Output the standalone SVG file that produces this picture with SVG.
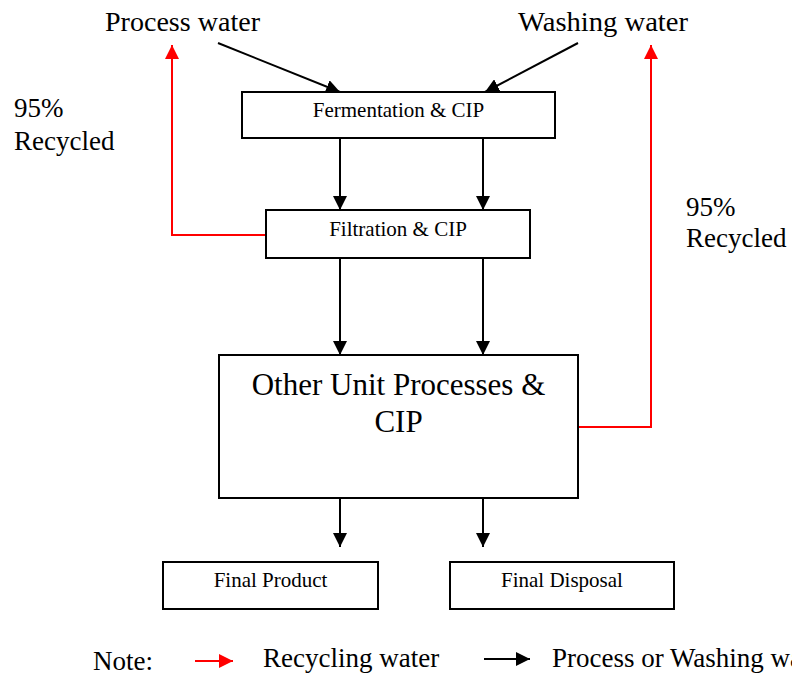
<svg xmlns="http://www.w3.org/2000/svg" width="792" height="677" viewBox="0 0 792 677">
<style>
text{font-family:"Liberation Serif","Times New Roman",serif;fill:#000}
.box{fill:#fff;stroke:#000;stroke-width:2}
.blk{fill:none;stroke:#000;stroke-width:2}
.red{fill:none;stroke:#f00;stroke-width:2}
.s{font-size:21px}
.m{font-size:27px}
</style>
<defs>
<marker id="ab" viewBox="0 0 10 10" refX="10" refY="5" markerWidth="7" markerHeight="7" orient="auto" markerUnits="strokeWidth"><path d="M0,0L10,5L0,10z" fill="#000"/></marker>
<marker id="ar" viewBox="0 0 10 10" refX="10" refY="5" markerWidth="7" markerHeight="7" orient="auto" markerUnits="strokeWidth"><path d="M0,0L10,5L0,10z" fill="#f00"/></marker>
</defs>
<rect width="792" height="677" fill="#fff"/>
<g id="connectors">
<line class="blk" x1="218" y1="43" x2="340" y2="92" marker-end="url(#ab)"/>
<line class="blk" x1="578" y1="43" x2="485" y2="92" marker-end="url(#ab)"/>
<line class="blk" x1="340" y1="138" x2="340" y2="210" marker-end="url(#ab)"/>
<line class="blk" x1="483" y1="138" x2="483" y2="210" marker-end="url(#ab)"/>
<line class="blk" x1="340" y1="258" x2="340" y2="355" marker-end="url(#ab)"/>
<line class="blk" x1="483" y1="258" x2="483" y2="355" marker-end="url(#ab)"/>
<line class="blk" x1="340" y1="498" x2="340" y2="547" marker-end="url(#ab)"/>
<line class="blk" x1="483" y1="498" x2="483" y2="547" marker-end="url(#ab)"/>
<polyline class="red" points="266,235 172,235 172,45" marker-end="url(#ar)"/>
<polyline class="red" points="578,427 651,427 651,45" marker-end="url(#ar)"/>
<line class="red" x1="195" y1="661" x2="233" y2="661" marker-end="url(#ar)"/>
<line class="blk" x1="484" y1="659" x2="530" y2="659" marker-end="url(#ab)"/>
</g>
<g id="process-water"><text x="105" y="31" font-size="28" textLength="155" lengthAdjust="spacingAndGlyphs">Process water</text></g>
<g id="washing-water"><text x="518" y="31" font-size="28" textLength="170" lengthAdjust="spacingAndGlyphs">Washing water</text></g>
<g id="recycled-left"><text class="m" x="14" y="117">95%</text><text class="m" x="14" y="150">Recycled</text></g>
<g id="recycled-right"><text class="m" x="686" y="216">95%</text><text class="m" x="686" y="247">Recycled</text></g>
<g id="fermentation"><rect class="box" x="242" y="92" width="313" height="46"/><text class="s" x="398.5" y="117" text-anchor="middle">Fermentation &amp; CIP</text></g>
<g id="filtration"><rect class="box" x="266" y="210" width="264" height="48"/><text class="s" x="398" y="236" text-anchor="middle">Filtration &amp; CIP</text></g>
<g id="other"><rect class="box" x="219" y="355" width="359" height="143"/><text x="398.5" y="395" text-anchor="middle" font-size="31">Other Unit Processes &amp;</text><text x="398.5" y="432" text-anchor="middle" font-size="31">CIP</text></g>
<g id="final-product"><rect class="box" x="163" y="562" width="215" height="47"/><text class="s" x="270.5" y="587" text-anchor="middle">Final Product</text></g>
<g id="final-disposal"><rect class="box" x="450" y="562" width="224" height="47"/><text class="s" x="562" y="587" text-anchor="middle">Final Disposal</text></g>
<g id="legend">
<text class="m" x="93" y="670">Note:</text>
<text class="m" x="263" y="667">Recycling water</text>
<text class="m" x="552" y="667">Process or Washing water</text>
</g>
</svg>
